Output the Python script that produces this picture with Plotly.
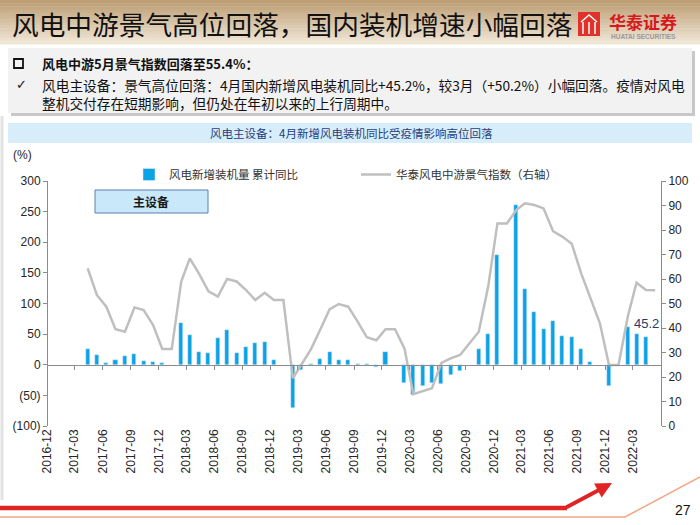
import pandas as pd
import plotly.graph_objects as go

# ---------------- data ----------------
months = ["2017-04","2017-05","2017-06","2017-07","2017-08","2017-09","2017-10","2017-11","2017-12",
          "2018-01","2018-02","2018-03","2018-04","2018-05","2018-06","2018-07","2018-08","2018-09","2018-10","2018-11","2018-12",
          "2019-01","2019-02","2019-03","2019-04","2019-05","2019-06","2019-07","2019-08","2019-09","2019-10","2019-11","2019-12",
          "2020-01","2020-02","2020-03","2020-04","2020-05","2020-06","2020-07","2020-08","2020-09","2020-10","2020-11","2020-12",
          "2021-01","2021-02","2021-03","2021-04","2021-05","2021-06","2021-07","2021-08","2021-09","2021-10","2021-11","2021-12",
          "2022-01","2022-02","2022-03","2022-04","2022-05"]

install_yoy = [25, 15.5, 3.5, 7, 15, 17, 6, 4, 3.5,
               None, 68.5, 49, 20.5, 20, 44, 57.5, 19, 29, 35, 37, 7,
               None, -70, -9, 2, 9, 20.5, 8, 7.5, 2, 0.5, -3.5, 21,
               None, -30, -50, -35, -29, -31, -17, -10, None, 25, 50, 179,
               None, 261, 123, 86.5, 59, 71, 47, 45.5, 25.5, 4.5, None, -34,
               None, 61, 50.2, 45.2, None]

index_values = [64.4, 53.5, 48.7, 39.5, 38.5, 48.4, 47.3, 41.2, 31.4,
                31.4, 59, 68.4, 62, 55, 52.8, 60, 59, 55.5, 51.4, 54.4, 51.4,
                51.4, 19.5, 24.9, 31.3, 39.2, 47.6, 49.8, 48.7, 42.6, 36.2, 35, 39.5,
                39.5, 31.7, 13, 14.2, 15.4, 25.8, 27.6, 29, 33.7, 38.5, 57, 82.7,
                82.7, 88.2, 90.9, 90.2, 88.8, 79.5, 77.3, 74.4, 62.3, 52.5, 42, 24.9,
                24.9, 45, 58.5, 55.5, 55.4]

tick_labels = ["2016-12","2017-03","2017-06","2017-09","2017-12","2018-03","2018-06","2018-09","2018-12",
               "2019-03","2019-06","2019-09","2019-12","2020-03","2020-06","2020-09","2020-12",
               "2021-03","2021-06","2021-09","2021-12","2022-03"]

left_ticks = [-100, -50, 0, 50, 100, 150, 200, 250, 300]
left_tick_text = ["(100)", "(50)", "0", "50", "100", "150", "200", "250", "300"]

bar_name = "风电新增装机量 累计同比"
line_name = "华泰风电中游景气指数（右轴）"
last_label = "45.2"

# ---------------- geometry helpers (paper = whole figure) ----------------
W, H = 700, 525
PL, PR, PT, PB = 47, 661, 181, 426

def px(p):
    return p / W

def py(p):
    return 1 - p / H

xdom = [px(PL), px(PR)]
ydom = [py(PB), py(PT)]
zero_pos = ydom[0] + 0.25 * (ydom[1] - ydom[0])

xdates = pd.to_datetime(months) + pd.Timedelta(days=12)
tickdates = pd.to_datetime(tick_labels)

CJK = "Noto Sans CJK SC"
LAT = "Liberation Sans, Arial"
BLUE = "#0BA3E6"
GRAY = "#BFBFBF"
AXC = "#8C8C8C"

fig = go.Figure()
fig.add_trace(go.Bar(x=xdates, y=install_yoy, name=bar_name, marker_color=BLUE,
                     width=0.43 * 30.44 * 86400000, xaxis="x", yaxis="y"))
fig.add_trace(go.Scatter(x=xdates, y=index_values, name=line_name, mode="lines",
                         line=dict(color=GRAY, width=2.5), xaxis="x2", yaxis="y2"))

shapes = []
annotations = []

def note(text, x, y, size, color="#111111", family=CJK, xanchor="center", **kw):
    annotations.append(dict(text=text, xref="paper", yref="paper", x=px(x), y=py(y),
                            xanchor=xanchor, yanchor="middle", showarrow=False,
                            font=dict(family=family, size=size, color=color), **kw))

def rect(x0, y0, x1, y1, fill, line=None, layer="above"):
    shapes.append(dict(type="rect", xref="paper", yref="paper", x0=px(x0), x1=px(x1),
                       y0=py(y1), y1=py(y0), fillcolor=fill,
                       line=line if line else dict(width=0), layer=layer))

# title bar gradient
c0 = (190, 158, 116)
c1 = (240, 230, 214)
n = 14
for i in range(n):
    t = i / (n - 1)
    col = "rgb(%d,%d,%d)" % tuple(int(c0[k] + (c1[k] - c0[k]) * t) for k in range(3))
    rect(0, 44 * i / n, 700, 44 * (i + 1) / n + 0.5, col, layer="below")

note("风电中游景气高位回落，国内装机增速小幅回落", 10, 23, 26.7, xanchor="left")
# logo
rect(578, 12, 600, 36, "#E0322B")
for xx in (583, 589, 595):
    shapes.append(dict(type="line", xref="paper", yref="paper", x0=px(xx), x1=px(xx), y0=py(34), y1=py(22),
                       line=dict(color="white", width=1.5)))
shapes.append(dict(type="path", xref="paper", yref="paper",
                   path="M %f,%f L %f,%f L %f,%f" % (px(581), py(22), px(589), py(15), px(597), py(22)),
                   line=dict(color="white", width=1.5)))
note("<b>华泰证券</b>", 643, 21, 17, color="#D7191C")
note("<b>HUATAI SECURITIES</b>", 643, 36, 6.5, color="#999999", family=LAT)

# text box
rect(11, 51, 695, 116, "#C8C8C8", layer="below")
rect(8, 48, 692, 113, "#F2F2F2", layer="below")
rect(14, 59, 23, 68, "rgba(0,0,0,0)", line=dict(color="#111111", width=1.8))
note("<b>风电中游5月景气指数回落至55.4%：</b>", 40, 63, 13, xanchor="left")
note("✓", 14, 85, 13, family="DejaVu Sans", xanchor="left")
note("风电主设备：景气高位回落：4月国内新增风电装机同比+45.2%，较3月（+50.2%）小幅回落。疫情对风电"
     "<br>整机交付存在短期影响，但仍处在年初以来的上行周期中。",
     40, 93.5, 13.7, xanchor="left", align="left")

# chart title band
rect(8, 123, 692, 143, "#D8EDFA", layer="below")
note("风电主设备：4月新增风电装机同比受疫情影响高位回落", 351, 133, 11.5, color="#1F3F80")
# left frame
shapes.append(dict(type="line", xref="paper", yref="paper", x0=px(2), x1=px(2), y0=py(500), y1=py(116),
                   line=dict(color="#E3E3E3", width=3)))

# unit
note("(%)", 22, 155, 12, color="#262626", family=LAT)
# 主设备 box
rect(95, 190, 208, 213, "#C9E8FA", line=dict(color="#5B7FB0", width=1))
note("<b>主设备</b>", 151, 201.5, 12, color="#1A1A1A")
# value label
annotations.append(dict(text=last_label, x=xdates[months.index("2022-04")], y=45.2, xref="x", yref="y",
                        showarrow=False, yshift=14, xanchor="center", yanchor="middle",
                        font=dict(family=LAT, size=13, color="#1F3C6E")))

# footer
shapes.append(dict(type="line", xref="paper", yref="paper", x0=px(0), x1=px(567), y0=py(508), y1=py(508),
                   line=dict(color="#E02424", width=4.5)))
shapes.append(dict(type="path", xref="paper", yref="paper",
                   path="M %f,%f L %f,%f L %f,%f" % (px(0), py(517), px(625), py(517), px(700), py(477)),
                   line=dict(color="#F4A582", width=1.5)))
annotations.append(dict(text="", xref="paper", yref="paper", x=px(612), y=py(483), ax=-47, ay=25,
                        axref="pixel", ayref="pixel", showarrow=True, arrowhead=2, arrowsize=0.8,
                        arrowwidth=4, arrowcolor="#E02424"))
note("27", 683, 510, 14, family=LAT)

tickfont = dict(family=LAT, size=12, color="#262626")
fig.update_layout(
    width=W, height=H,
    margin=dict(l=0, r=0, t=0, b=0, pad=0, autoexpand=False),
    paper_bgcolor="white", plot_bgcolor="rgba(0,0,0,0)",
    bargap=0,
    showlegend=True,
    legend=dict(orientation="h", x=px(129), y=py(160), xanchor="left", yanchor="top",
                entrywidth=182, entrywidthmode="pixels", bgcolor="rgba(0,0,0,0)",
                font=dict(family=CJK, size=11.5, color="#333333"), traceorder="normal"),
    xaxis=dict(type="date", domain=xdom, range=["2016-12-01", "2022-06-01"], anchor="free", position=zero_pos,
               showline=True, linecolor=AXC, linewidth=1, ticks="outside", ticklen=4, tickcolor=AXC,
               tickvals=tickdates, showticklabels=False, showgrid=False, zeroline=False, automargin=False),
    xaxis2=dict(type="date", domain=xdom, overlaying="x", matches="x", anchor="free", position=ydom[0],
                side="bottom", showline=False, ticks="", tickvals=tickdates, ticktext=tick_labels,
                tickangle=-90, tickfont=tickfont, showgrid=False, zeroline=False, automargin=False),
    yaxis=dict(domain=ydom, range=[-100, 300], tickvals=left_ticks, ticktext=left_tick_text, anchor="free",
               position=xdom[0], showline=True, linecolor=AXC, ticks="outside", ticklen=4, tickcolor=AXC,
               tickfont=tickfont, showgrid=False, zeroline=False, automargin=False),
    yaxis2=dict(domain=ydom, range=[0, 100], dtick=10, overlaying="y", side="right", anchor="free",
                position=xdom[1], showline=True, linecolor=AXC, ticks="outside", ticklen=4, tickcolor=AXC,
                tickfont=tickfont, showgrid=False, zeroline=False, automargin=False),
    shapes=shapes,
    annotations=annotations,
)

fig.write_html("out.html", config={"displayModeBar": False},
               post_script="document.body.style.margin='0px';document.body.style.overflow='hidden';")
